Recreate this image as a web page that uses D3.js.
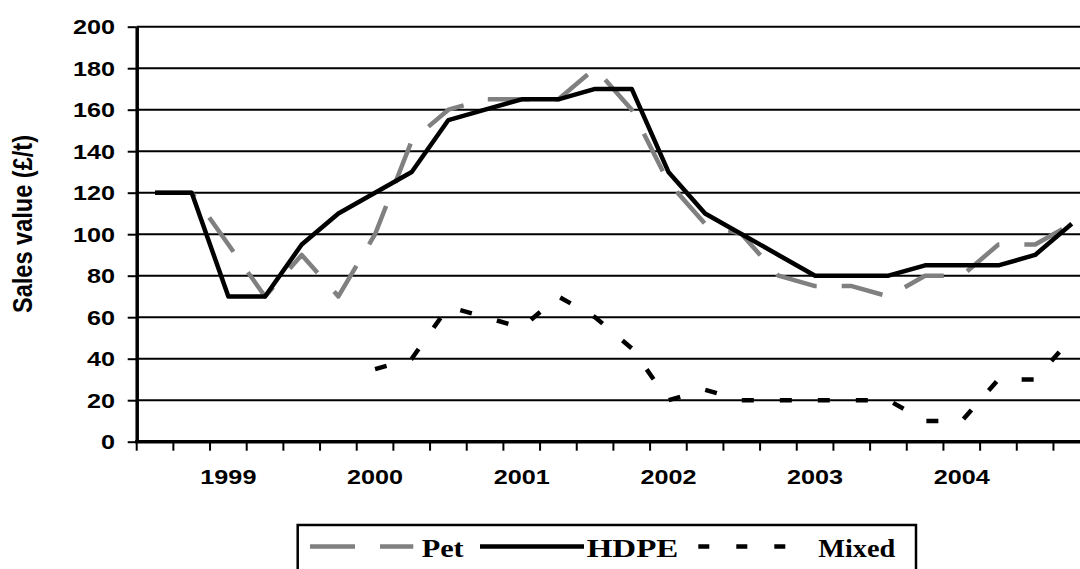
<!DOCTYPE html>
<html>
<head>
<meta charset="utf-8">
<script src="https://cdn.jsdelivr.net/npm/d3@7"></script>
<style>
  html, body { margin: 0; padding: 0; background: #fff; }
  svg { display: block; }
</style>
</head>
<body>
<svg id="chart" width="1080" height="569"></svg>
<script>
// ---- data ----
const categories = ["1998 Q3","1998 Q4","1999 Q1","1999 Q2","1999 Q3","1999 Q4",
  "2000 Q1","2000 Q2","2000 Q3","2000 Q4","2001 Q1","2001 Q2","2001 Q3","2001 Q4",
  "2002 Q1","2002 Q2","2002 Q3","2002 Q4","2003 Q1","2003 Q2","2003 Q3","2003 Q4",
  "2004 Q1","2004 Q2","2004 Q3","2004 Q4"];
const yearLabels = ["1999","2000","2001","2002","2003","2004"];
const yearLabelCategories = ["1999 Q1","2000 Q1","2001 Q1","2002 Q1","2003 Q1","2004 Q1"];
const petValues   = [120,120,95,70,90,70,100,145,160,165,165,165,180,160,125,105,100,80,75,75,70,80,80,95,95,105];
const hdpeValues  = [120,120,70,70,95,110,120,130,155,160,165,165,170,170,130,110,100,90,80,80,80,85,85,85,90,105];
const mixedValues = [null,null,null,null,null,null,35,40,65,60,55,70,60,45,20,25,20,20,20,20,20,10,10,30,30,50];
const yTicks = [0,20,40,60,80,100,120,140,160,180,200];
const seriesNames = ["Pet","HDPE","Mixed"];
const yTitle = "Sales value (£/t)";

(function () {
// ---- layout ----
const plotLeft = 136.7, bandW = 36.67, plotTop = 26.7, plotBottom = 441.7;
const plotRight = plotLeft + bandW * categories.length;
const stretch = 1.2;
const svg = d3.select("#chart");

const x = d3.scaleBand().domain(categories).range([plotLeft, plotRight]).padding(0);
const y = d3.scaleLinear().domain([0, 200]).range([plotBottom, plotTop]);
const cx = c => x(c) + x.bandwidth() / 2;

const sans = "'Liberation Sans', Arial, Helvetica, sans-serif";
const serif = "'Liberation Serif', 'Times New Roman', serif";

// gridlines
svg.append("g").selectAll("line").data(yTicks.filter(v => v > 0)).join("line")
  .attr("x1", plotLeft).attr("x2", plotRight)
  .attr("y1", d => y(d)).attr("y2", d => y(d))
  .attr("stroke", "#000").attr("stroke-width", 2);

// y axis
const yAxis = d3.axisLeft(y).tickValues(yTicks).tickSize(9).tickSizeOuter(0).tickFormat("");
const gy = svg.append("g").attr("transform", `translate(${plotLeft},0)`).call(yAxis);
gy.select(".domain").attr("stroke", "#000").attr("stroke-width", 3.5);
gy.selectAll(".tick line").attr("stroke", "#000").attr("stroke-width", 2);
svg.append("g").selectAll("text").data(yTicks).join("text")
  .attr("transform", d => `translate(115,${y(d)}) scale(${stretch},1)`)
  .attr("dy", "0.36em")
  .attr("text-anchor", "end")
  .style("font-family", sans).style("font-weight", "bold").style("font-size", "21px")
  .text(d => d);

// x axis (ticks at category boundaries)
const boundaries = categories.map(c => x(c)).concat([plotRight]);
const gx = svg.append("g");
gx.append("line").attr("x1", plotLeft - 1.5).attr("x2", plotRight).attr("y1", plotBottom).attr("y2", plotBottom)
  .attr("stroke", "#000").attr("stroke-width", 3.5);
gx.selectAll("line.tk").data(boundaries).join("line").attr("class", "tk")
  .attr("x1", d => d).attr("x2", d => d).attr("y1", plotBottom).attr("y2", plotBottom + 9)
  .attr("stroke", "#000").attr("stroke-width", 2);
gx.selectAll("text").data(yearLabels).join("text")
  .attr("transform", (d, i) => `translate(${cx(yearLabelCategories[i])},484) scale(${stretch},1)`)
  .attr("text-anchor", "middle")
  .style("font-family", sans).style("font-weight", "bold").style("font-size", "21px")
  .text(d => d);

// y title
svg.append("text")
  .attr("transform", `translate(32,224) scale(${stretch},1) rotate(-90)`)
  .attr("text-anchor", "middle")
  .style("font-family", sans).style("font-weight", "bold").style("font-size", "23px")
  .attr("textLength", 178).attr("lengthAdjust", "spacingAndGlyphs")
  .text(yTitle);

// lines
const line = d3.line()
  .defined(d => d.v != null)
  .x(d => cx(d.c)).y(d => y(d.v));
const toPts = vals => vals.map((v, i) => ({ c: categories[i], v }));

svg.append("path").datum(toPts(petValues)).attr("d", line)
  .attr("fill", "none").attr("stroke", "#808080").attr("stroke-width", 4.5)
  .attr("stroke-dasharray", "42,25").attr("stroke-linejoin", "round");
svg.append("path").datum(toPts(hdpeValues)).attr("d", line)
  .attr("fill", "none").attr("stroke", "#000").attr("stroke-width", 4.5)
  .attr("stroke-linejoin", "round");
svg.append("path").datum(toPts(mixedValues)).attr("d", line)
  .attr("fill", "none").attr("stroke", "#000").attr("stroke-width", 4.5)
  .attr("stroke-dasharray", "12,26").attr("stroke-linejoin", "round");

// legend
const lg = svg.append("g");
lg.append("rect").attr("x", 297.7).attr("y", 525).attr("width", 618.3).attr("height", 70)
  .attr("fill", "#fff").attr("stroke", "#000").attr("stroke-width", 2.5);
const ly = 546.5;
const legendItems = [
  { name: seriesNames[0], x1: 310, x2: 413.3, color: "#808080", dash: "45,25", tx: 421.7, tl: 42 },
  { name: seriesNames[1], x1: 480, x2: 584, color: "#000", dash: null, tx: 586.7, tl: 91.7 },
  { name: seriesNames[2], x1: 698.3, x2: 790, color: "#000", dash: "11,27", tx: 818.3, tl: 77 }
];
legendItems.forEach(it => {
  lg.append("line").attr("x1", it.x1).attr("x2", it.x2).attr("y1", ly).attr("y2", ly)
    .attr("stroke", it.color).attr("stroke-width", 4.5)
    .attr("stroke-dasharray", it.dash);
  lg.append("text").attr("x", it.tx).attr("y", 557)
    .attr("textLength", it.tl).attr("lengthAdjust", "spacingAndGlyphs")
    .style("font-family", serif).style("font-weight", "bold").style("font-size", "26px")
    .text(it.name);
});
})();
</script>
</body>
</html>
